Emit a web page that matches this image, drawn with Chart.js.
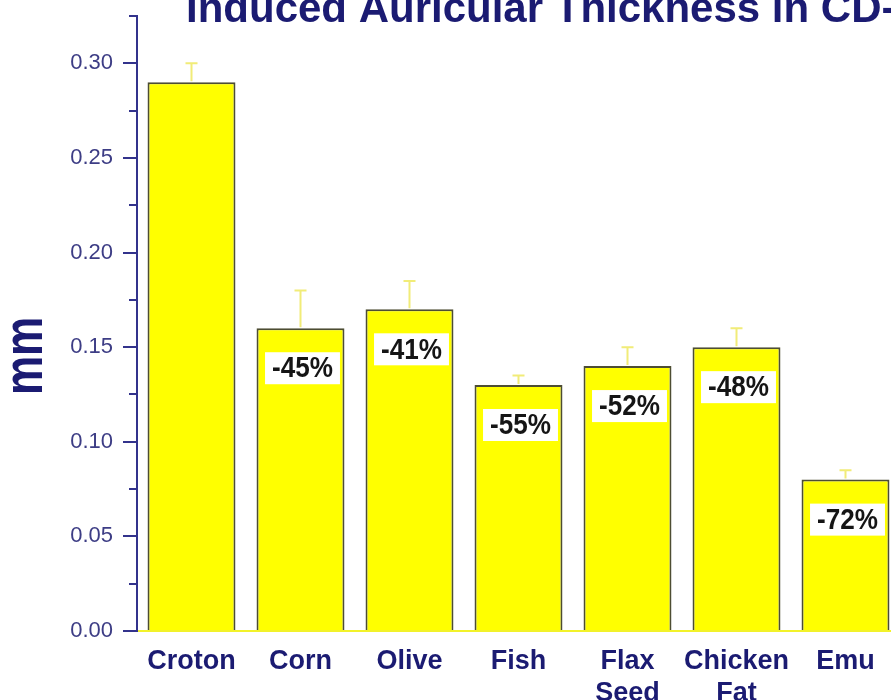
<!DOCTYPE html>
<html>
<head>
<meta charset="utf-8">
<title>Induced Auricular Thickness</title>
<script src="https://cdn.jsdelivr.net/npm/chart.js@4.4.0/dist/chart.umd.min.js"></script>
<style>
    html, body { margin: 0; padding: 0; background: #ffffff; overflow: hidden; }
    #wrap { width: 900px; height: 700px; }
</style>
</head>
<body>
<div id="wrap"><canvas id="thicknessChart" width="900" height="700"></canvas></div>
<script>
// Chart data
const oils = [['Croton'], ['Corn'], ['Olive'], ['Fish'], ['Flax', 'Seed'], ['Chicken', 'Fat'], ['Emu']];
const thickness = [0.29, 0.16, 0.17, 0.13, 0.14, 0.15, 0.08];
const thicknessErr = [0.01, 0.02, 0.015, 0.005, 0.01, 0.01, 0.005];
const changeLabels = ['', '-45%', '-41%', '-55%', '-52%', '-48%', '-72%'];
const yMax = 0.325;
const yStep = 0.025;
const chartTitle = 'Induced Auricular Thickness in CD-';
const yAxisTitle = 'mm';

const NAVY = '#1b1b72';
const AXIS = '#33338c';
const FONT = '"Liberation Sans", Arial, sans-serif';

// major ticks every 0.05, minor ones in between
function isMajor(value) {
    return Math.round(value * 1000) % 50 === 0;
}

// Error bars, percent boxes, minor ticks, title and axis title
const extrasPlugin = {
    id: 'extras',
    afterDatasetsDraw(chart) {
        const ctx = chart.ctx;
        const yScale = chart.scales.y;
        const bars = chart.getDatasetMeta(0).data;
        ctx.save();

        // error bars (upper half only)
        ctx.strokeStyle = '#f1ec78';
        ctx.lineWidth = 2;
        bars.forEach((bar, i) => {
            const top = yScale.getPixelForValue(thickness[i] + thicknessErr[i]);
            ctx.beginPath();
            ctx.moveTo(bar.x, bar.y - 1);
            ctx.lineTo(bar.x, top);
            ctx.moveTo(bar.x - 6, top);
            ctx.lineTo(bar.x + 6, top);
            ctx.stroke();
        });

        // percent change labels
        ctx.font = 'bold 30px ' + FONT;
        ctx.textAlign = 'center';
        ctx.textBaseline = 'middle';
        bars.forEach((bar, i) => {
            const label = changeLabels[i];
            if (!label) return;
            const w = ctx.measureText(label).width * 0.87 + 14;
            const h = 32;
            const cx = bar.x + 2;
            const cy = bar.y + 40;
            ctx.fillStyle = '#ffffff';
            ctx.fillRect(cx - w / 2, cy - h / 2, w, h);
            ctx.save();
            ctx.translate(cx, cy + 1);
            ctx.scale(0.87, 1);
            ctx.fillStyle = '#151515';
            ctx.fillText(label, 0, 0);
            ctx.restore();
        });
        ctx.restore();
    },
    afterDraw(chart) {
        const ctx = chart.ctx;
        const yScale = chart.scales.y;
        const left = chart.chartArea.left;
        ctx.save();

        // minor ticks
        ctx.strokeStyle = AXIS;
        ctx.lineWidth = 2;
        yScale.ticks.forEach(t => {
            if (isMajor(t.value)) return;
            const py = Math.round(yScale.getPixelForValue(t.value));
            ctx.beginPath();
            ctx.moveTo(left - 8, py);
            ctx.lineTo(left, py);
            ctx.stroke();
        });

        // title (cut off at the top and right like the original)
        ctx.fillStyle = NAVY;
        ctx.font = 'bold 42px ' + FONT;
        ctx.textAlign = 'left';
        ctx.textBaseline = 'alphabetic';
        ctx.fillText(chartTitle, 186, 22);

        // y axis title
        ctx.save();
        ctx.translate(27, 356);
        ctx.rotate(-Math.PI / 2);
        ctx.scale(1, 1.27);
        ctx.font = 'bold 44px ' + FONT;
        ctx.textAlign = 'center';
        ctx.fillText(yAxisTitle, 0, 0.2595 * 44);
        ctx.restore();

        ctx.restore();
    }
};

Chart.defaults.font.family = FONT;

const ctx = document.getElementById('thicknessChart').getContext('2d');
new Chart(ctx, {
    type: 'bar',
    data: {
        labels: oils,
        datasets: [{
            data: thickness,
            backgroundColor: '#ffff00',
            borderColor: '#4d4d33',
            borderWidth: 2,
            borderSkipped: 'bottom',
            categoryPercentage: 1,
            barPercentage: 0.807
        }]
    },
    options: {
        responsive: false,
        animation: false,
        layout: { padding: { top: 16, left: 0, right: 0, bottom: 0 } },
        plugins: {
            legend: { display: false },
            tooltip: { enabled: false }
        },
        scales: {
            x: {
                grid: { display: false, drawTicks: false },
                border: { display: true, color: '#f2f22a', width: 2 },
                ticks: {
                    color: NAVY,
                    padding: 14,
                    maxRotation: 0,
                    autoSkip: false,
                    font: { size: 27, weight: 'bold', lineHeight: 1.2 }
                },
                afterFit(scale) { scale.height = 69; }
            },
            y: {
                min: 0,
                max: yMax,
                border: { display: true, color: AXIS, width: 2 },
                grid: {
                    drawOnChartArea: false,
                    tickLength: 14,
                    lineWidth: 2,
                    color: c => (c.tick && isMajor(c.tick.value)) ? AXIS : 'rgba(0,0,0,0)'
                },
                ticks: {
                    stepSize: yStep,
                    padding: 10,
                    color: '#3d3d85',
                    font: { size: 22 },
                    callback: v => isMajor(v) ? v.toFixed(2) : ''
                },
                afterFit(scale) {
                    scale.width = 137;
                    scale.paddingTop = 4;
                    scale.paddingBottom = 4;
                }
            }
        }
    },
    plugins: [extrasPlugin]
});
</script>
</body>
</html>
